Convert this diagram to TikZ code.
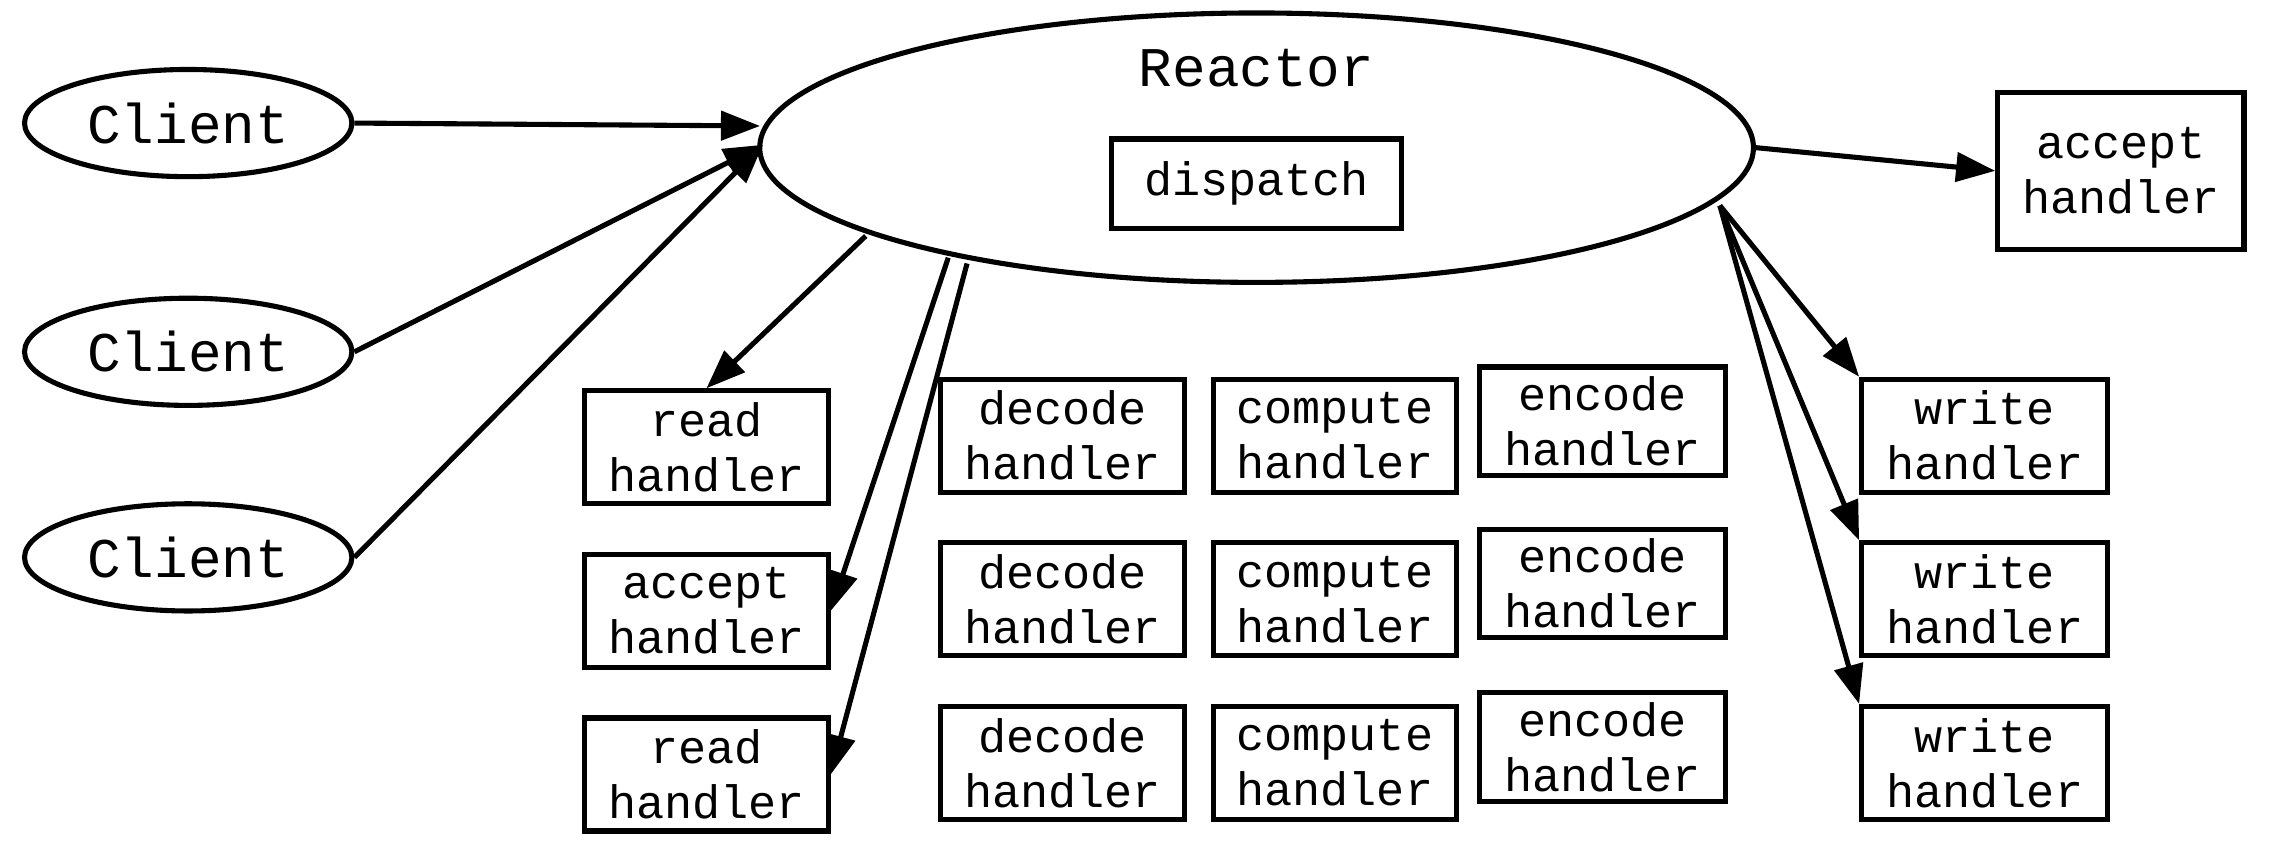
\documentclass[tikz,border=0pt]{standalone}
\usepackage{fontspec}
\setmainfont{Liberation Mono}
\usetikzlibrary{arrows.meta,shapes.geometric}
\begin{document}
\begin{tikzpicture}[x=0.01cm,y=-0.01cm,line width=1pt,
  box/.style={draw,rectangle,minimum width=1.68cm,minimum height=0.78cm,align=center,inner sep=0pt,font=\fontsize{9.2}{10.8}\selectfont},
  cl/.style={draw,ellipse,minimum width=2.26cm,minimum height=0.74cm,inner sep=0pt,font=\fontsize{11}{13}\selectfont},
  arr/.style={-{Triangle[length=2.7mm,width=2mm]}}]
\useasboundingbox (0,0) rectangle (1568,581);
\node[cl] (c1) at (130,85) {Client};
\node[cl] (c2) at (130,243) {Client};
\node[cl] (c3) at (130,385) {Client};
\node[draw,ellipse,minimum width=6.86cm,minimum height=1.86cm,inner sep=0pt] (r) at (868,102) {};
\node[font=\fontsize{11}{13}\selectfont] (rt) at (868,47) {Reactor};
\node[box,minimum width=2cm,minimum height=0.62cm] (d) at (868,127) {dispatch};
\node[box,minimum width=1.7cm,minimum height=1.08cm] (ah) at (1465,118) {accept\\handler};
\node[box] (rh1) at (488,309) {read\\handler};
\node[box] (ah2) at (488,422) {accept\\handler};
\node[box] (rh2) at (488,535) {read\\handler};
\foreach \i/\y/\ey in {1/301/291,2/414/403,3/527/516}{
  \node[box] (de\i) at (734,\y) {decode\\handler};
  \node[box] (co\i) at (922,\y) {compute\\handler};
  \node[box,minimum width=1.7cm,minimum height=0.75cm] (en\i) at (1107,\ey) {encode\\handler};
  \node[box,minimum width=1.7cm] (wr\i) at (1371,\y) {write\\handler};
}
\coordinate (r1) at (525,87);
\coordinate (r2) at (527,100);
\draw[arr] (c1.east) -- (r1);
\draw[arr] (c2.east) -- (r2);
\draw[arr] (c3.east) -- (r2);
\draw[arr] (r.east) -- (ah.west);
\draw[arr] (598,163) -- (rh1.north);
\draw[arr] (655,178) -- (ah2.east);
\draw[arr] (668,182) -- (rh2.east);
\draw[arr] (1188,142) -- (wr1.north west);
\draw[arr] (1188,142) -- (wr2.north west);
\draw[arr] (1188,142) -- (wr3.north west);
\end{tikzpicture}
\end{document}
